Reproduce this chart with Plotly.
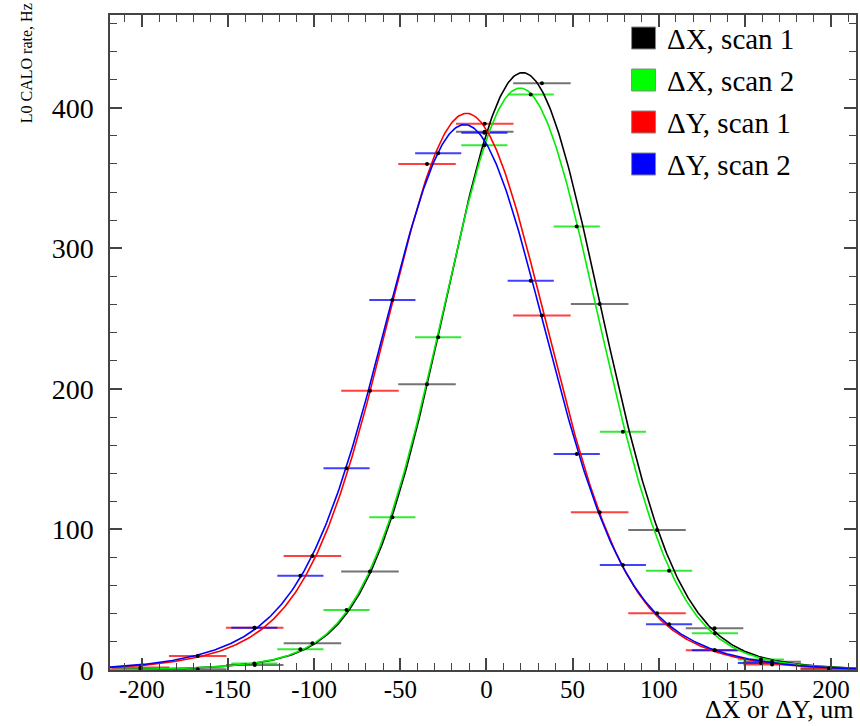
import numpy as np
import plotly.graph_objects as go

# ---------------- data ----------------
SCAN1_X = [-200.8, -167.6, -134.5, -101.0, -67.6, -34.5, -1.0, 32.2, 65.7, 99.0, 132.4, 165.8, 199.0]
SCAN2_X = [-134.7, -108.0, -81.2, -54.6, -28.0, -1.2, 25.7, 52.4, 79.2, 106.0, 132.6, 159.3]
SCAN1_XERR = 16.7
SCAN2_XERR = 13.4

DX_SCAN1 = [0.3, 0.6, 3.5, 19.0, 70.0, 203.3, 383.0, 417.5, 260.4, 99.6, 29.7, 5.9, 1.2]
DX_SCAN2 = [4.7, 14.7, 42.7, 108.6, 236.8, 373.4, 409.5, 315.5, 169.5, 70.7, 26.1, 7.5]
DY_SCAN1 = [1.7, 10.0, 30.1, 81.1, 198.6, 360.0, 388.6, 252.2, 112.2, 40.3, 14.0, 4.0, 0.5]
DY_SCAN2 = [30.1, 67.1, 143.5, 263.3, 367.7, 382.2, 276.9, 153.6, 74.7, 32.5, 14.0, 5.0]

SERIES_NAMES = ["\u0394X, scan 1", "\u0394X, scan 2", "\u0394Y, scan 1", "\u0394Y, scan 2"]

# fit parameters (double Gaussian) of the drawn fit curves
FIT_MEAN = [21.0, 19.5, -11.5, -12.7]
FIT_A1 = [390.0, 380.0, 326.0, 308.0]
FIT_S1 = [44.0, 44.0, 44.0, 44.0]
FIT_A2 = [35.0, 34.0, 70.0, 80.0]
FIT_S2 = [75.0, 75.0, 76.0, 76.0]

X_TICKS = [-200, -150, -100, -50, 0, 50, 100, 150, 200]
X_TICK_TEXT = ["-200", "-150", "-100", "-50", "0", "50", "100", "150", "200"]
Y_TICKS = [0, 100, 200, 300, 400]
Y_TICK_TEXT = ["0", "100", "200", "300", "400"]

X_RANGE = [-218.5, 214.5]
Y_RANGE = [0, 466]

# ---------------- styling ----------------
CURVE_COLORS = ["#000000", "#00ee00", "#ff0000", "#0000ff"]
BAR_COLORS = ["rgba(70,70,70,0.75)", "rgba(0,230,0,0.8)", "rgba(255,0,0,0.75)", "rgba(0,0,255,0.75)"]
BOX_COLORS = ["#000000", "#00ff00", "#ff0000", "#0000ff"]
FONT = "Liberation Serif, Times New Roman, serif"

xs = [SCAN1_X, SCAN2_X, SCAN1_X, SCAN2_X]
ys = [DX_SCAN1, DX_SCAN2, DY_SCAN1, DY_SCAN2]
xerrs = [SCAN1_XERR, SCAN2_XERR, SCAN1_XERR, SCAN2_XERR]

fig = go.Figure()

# error bars
for i in range(4):
    fig.add_trace(go.Scatter(
        x=xs[i], y=ys[i], mode="markers",
        marker=dict(size=1, color="rgba(0,0,0,0)"),
        error_x=dict(type="constant", value=xerrs[i], color=BAR_COLORS[i],
                     thickness=2, width=0),
        showlegend=False, hoverinfo="skip"))

# fit curves
xf = np.linspace(X_RANGE[0], X_RANGE[1], 600)
for i in range(4):
    yf = (FIT_A1[i] * np.exp(-(xf - FIT_MEAN[i]) ** 2 / (2 * FIT_S1[i] ** 2))
          + FIT_A2[i] * np.exp(-(xf - FIT_MEAN[i]) ** 2 / (2 * FIT_S2[i] ** 2)))
    fig.add_trace(go.Scatter(x=xf, y=yf, mode="lines",
                             line=dict(color=CURVE_COLORS[i], width=1.6),
                             showlegend=False, hoverinfo="skip"))

# data points
for i in range(4):
    fig.add_trace(go.Scatter(x=xs[i], y=ys[i], mode="markers",
                             marker=dict(size=4, color="black"),
                             name=SERIES_NAMES[i], showlegend=False))

# ---------------- manual legend (ROOT style) ----------------
L, R, T, B = 110, 858, 15, 670
W, H = R - L, B - T
def px(x):
    return (x - L) / W
def py(y):
    return (B - y) / H

row_y = [38, 80, 122, 164]
shapes = []
annotations = []
for i in range(4):
    shapes.append(dict(type="rect", xref="paper", yref="paper",
                       x0=px(633), x1=px(657), y0=py(row_y[i] + 11), y1=py(row_y[i] - 11),
                       fillcolor=BOX_COLORS[i], line=dict(color="#888888", width=1)))
    annotations.append(dict(xref="paper", yref="paper", x=px(666), y=py(row_y[i] + 1),
                            xanchor="left", yanchor="middle", showarrow=False,
                            text=SERIES_NAMES[i], font=dict(family=FONT, size=29, color="black")))

annotations.append(dict(xref="paper", yref="paper", x=1.0, y=py(726),
                        xanchor="right", yanchor="bottom", showarrow=False,
                        text="\u0394X or \u0394Y, um", font=dict(family=FONT, size=26, color="black")))
annotations.append(dict(xref="paper", yref="paper", x=px(27), y=py(63),
                        xanchor="center", yanchor="middle", showarrow=False, textangle=-90,
                        text="L0 CALO rate, Hz", font=dict(family=FONT, size=16, color="black")))

axis_common = dict(showgrid=False, zeroline=False, showline=True, linecolor="#444444",
                   linewidth=1.5, mirror="allticks", ticks="inside", ticklen=12,
                   tickwidth=1.5, tickcolor="#444444")

fig.update_layout(
    width=860, height=726,
    margin=dict(l=L, r=860 - R, t=T, b=726 - B),
    paper_bgcolor="white", plot_bgcolor="white",
    showlegend=False,
    shapes=shapes, annotations=annotations,
    xaxis=dict(range=X_RANGE, tickvals=X_TICKS, ticktext=X_TICK_TEXT,
               minor=dict(dtick=10, tick0=0, ticks="inside", ticklen=7, tickwidth=1.2,
                          tickcolor="#444444"),
               tickfont=dict(family=FONT, size=25, color="black"),
               ticklabelstandoff=-4, **axis_common),
    yaxis=dict(range=Y_RANGE, tickvals=Y_TICKS, ticktext=Y_TICK_TEXT,
               minor=dict(dtick=20, tick0=0, ticks="inside", ticklen=7, tickwidth=1.2,
                          tickcolor="#444444"),
               tickfont=dict(family=FONT, size=28, color="black"),
               ticklabelstandoff=9, **axis_common),
)

fig.write_html("out.html")
